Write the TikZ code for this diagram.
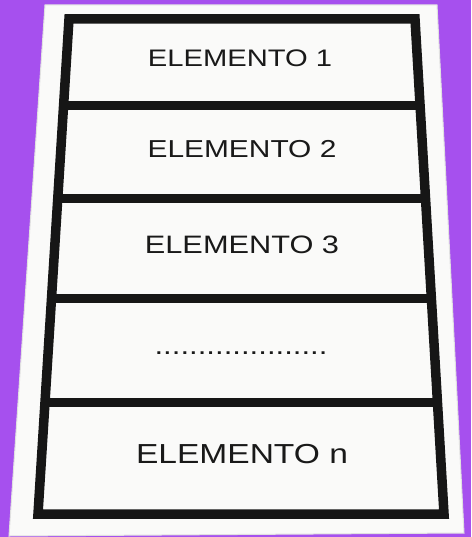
\documentclass[tikz,border=0pt]{standalone}
\usepackage{fontspec}
\setsansfont{Liberation Sans}
\usetikzlibrary{calc}
\definecolor{bgpurple}{RGB}{166,80,238}
\definecolor{sheetwhite}{RGB}{250,250,249}
\definecolor{framegray}{RGB}{22,22,22}

\begin{document}
\begin{tikzpicture}[
    x=1pt, y=-1pt,
    sheet/.style={fill=sheetwhite, draw=black!12, line width=1pt},
    frame/.style={draw=framegray, line width=9.5pt, line join=miter},
    divider/.style={draw=framegray, line width=9pt},
    item/.style={text=black!90, anchor=base, xscale=1.22, inner sep=0pt}
]
\useasboundingbox (0,0) rectangle (471,537);
\fill[bgpurple] (0,0) rectangle (471,537);

% tilted sheet
\draw[sheet] (45,5) -- (437,5) -- (464,533) -- (9,536) -- cycle;

% outer frame of the stack
\coordinate (ftl) at (69,19);
\coordinate (ftr) at (415,19);
\coordinate (fbr) at (444,514);
\coordinate (fbl) at (38,514);
\draw[frame] (ftl) -- (ftr) -- (fbr) -- (fbl) -- cycle;
\foreach \t in {0.174,0.362,0.564,0.774}
    \draw[divider] ($(ftl)!\t!(fbl)$) -- ($(ftr)!\t!(fbr)$);

\node[item, font=\sffamily\fontsize{23.9}{28}\selectfont] (e1) at (240,67) {ELEMENTO 1};
\node[item, font=\sffamily\fontsize{24.5}{29}\selectfont] (e2) at (242,158) {ELEMENTO 2};
\node[item, font=\sffamily\fontsize{25.2}{30}\selectfont] (e3) at (242,253) {ELEMENTO 3};
\node[item, font=\sffamily\fontsize{25.5}{30}\selectfont] (dots) at (241,354) {....................};
\node[item, font=\sffamily\fontsize{27.5}{33}\selectfont] (en) at (242,463) {ELEMENTO n};

\end{tikzpicture}
\end{document}
